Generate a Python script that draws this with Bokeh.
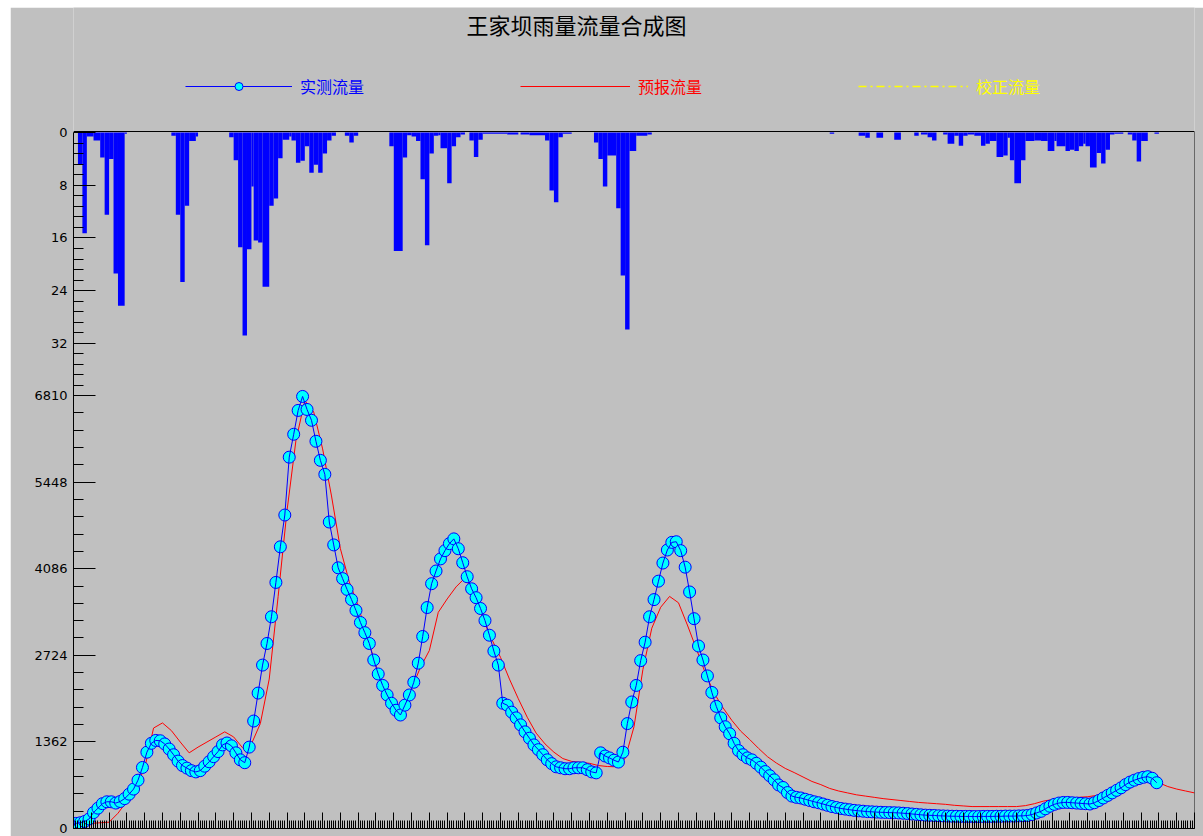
from bokeh.plotting import figure
from bokeh.models import (Range1d, LinearAxis, FixedTicker, SingleIntervalTicker,
                          Legend, LegendItem, Label, ColumnDataSource, CustomJSTickFormatter)
from bokeh.embed import file_html
from bokeh.resources import INLINE

# ---------------- data ----------------
title_text = "王家坝雨量流量合成图"
series_names = ["实测流量", "预报流量", "校正流量"]

# observed flow (every 2 h)
obs_hours = list(range(1, 488, 2))
obs_flow = [
    80, 90, 110, 150, 250, 320, 390, 420, 420, 400,
    425, 470, 540, 620, 760, 960, 1200, 1340, 1385, 1380,
    1330, 1250, 1160, 1060, 990, 950, 910, 890, 910, 980,
    1050, 1130, 1210, 1315, 1345, 1300, 1190, 1080, 1035, 1280,
    1690, 2130, 2570, 2910, 3330, 3870, 4430, 4930, 5840, 6200,
    6575, 6795, 6590, 6420, 6090, 5790, 5570, 4820, 4460, 4100,
    3930, 3760, 3600, 3430, 3240, 3080, 2910, 2650, 2430, 2250,
    2100, 1970, 1860, 1785, 1940, 2100, 2300, 2600, 3020, 3475,
    3850, 4050, 4240, 4370, 4480, 4555, 4400, 4180, 3960, 3770,
    3630, 3460, 3270, 3040, 2790, 2570, 1970, 1940, 1830, 1740,
    1630, 1520, 1420, 1315, 1240, 1160, 1080, 1020, 970, 955,
    940, 940, 955, 955, 955, 925, 890, 875, 1190, 1140,
    1110, 1075, 1045, 1200, 1650, 1990, 2250, 2640, 2930, 3330,
    3600, 3890, 4175, 4380, 4500, 4510, 4370, 4110, 3720, 3300,
    2870, 2650, 2400, 2140, 1920, 1740, 1600, 1490, 1340, 1225,
    1160, 1110, 1080, 1025, 965, 895, 830, 765, 685, 645,
    565, 510, 490, 480, 460, 440, 420, 405, 385, 365,
    345, 330, 315, 305, 295, 285, 278, 272, 265, 262,
    258, 255, 252, 250, 248, 245, 240, 235, 228, 222,
    215, 210, 207, 205, 200, 198, 195, 193, 192, 190,
    190, 190, 188, 188, 190, 190, 190, 192, 192, 195,
    195, 195, 198, 200, 205, 220, 245, 270, 310, 350,
    380, 400, 410, 410, 405, 400, 395, 390, 385, 405,
    440, 480, 520, 560, 600, 640, 690, 730, 760, 785,
    805, 815, 790, 720,
]

# forecast flow (every 4 h)
fc_hours = list(range(0, 505, 4))
fc_flow = [
    0, 40, 80, 90, 100, 240, 430, 650, 950, 1580,
    1660, 1540, 1360, 1190, 1280, 1360, 1440, 1520, 1440, 1270,
    1330, 1650, 2350, 3650, 5000, 6100, 6730, 6550, 5970, 5230,
    4400, 3880, 3500, 3020, 2560, 2200, 1960, 1840, 2200, 2535,
    2800, 3400, 3610, 3800, 3940, 3700, 3300, 2980, 2690, 2350,
    2040, 1750, 1500, 1330, 1200, 1100, 1055, 1040, 1025, 990,
    975, 970, 1100, 1600, 2500, 3150, 3480, 3650, 3550, 3200,
    2830, 2450, 2130, 1900, 1700, 1530, 1400, 1260, 1130, 1030,
    945, 880, 810, 740, 690, 630, 590, 560, 530, 510,
    490, 470, 455, 440, 425, 410, 400, 390, 380, 365,
    355, 345, 345, 345, 345, 345, 345, 360, 390, 430,
    455, 470, 480, 490, 500, 520, 570, 630, 690, 740,
    770, 760, 720, 660, 620, 590, 560,
]

# corrected flow: no values are available in this chart (legend entry only)
corr_hours = [0]
corr_flow = [float("nan")]

# hourly rainfall (mm), as intervals [start, end)
rain_start = [2, 4, 6, 9, 12, 14, 16, 18, 20, 23,
              44, 46, 48, 50, 52, 55,
              70, 72, 74, 76, 78, 80, 81, 83, 85, 88, 90, 92, 94, 97, 98, 100, 102, 104, 106, 108, 110, 112, 114, 116,
              122, 124, 126,
              142, 144, 148, 150, 152, 154, 156, 158, 160, 162, 164, 165, 168, 170, 172, 174,
              178, 180, 182, 184, 195, 201, 205, 212, 214, 216, 218, 220,
              234, 236, 238, 240, 244, 246, 248, 250, 253, 258,
              340, 353, 356, 361, 369, 378, 381, 384, 386, 391, 393, 396, 398, 400, 402, 405, 408, 410, 412, 415,
              418, 420, 421, 423, 426, 428, 432, 435, 438, 441, 442, 446, 448, 450, 452, 454, 455, 457, 460, 462,
              464, 466, 468, 474, 476, 478, 480, 486]
rain_end = [4, 6, 9, 12, 14, 16, 18, 20, 23, 24,
            46, 48, 50, 52, 55, 56,
            72, 74, 76, 78, 80, 81, 83, 85, 88, 90, 92, 94, 97, 98, 100, 102, 104, 106, 108, 110, 112, 114, 116, 118,
            124, 126, 128,
            144, 148, 150, 152, 154, 156, 158, 160, 162, 164, 165, 168, 170, 172, 174, 176,
            180, 182, 184, 195, 200, 205, 212, 214, 216, 218, 220, 224,
            236, 238, 240, 244, 246, 248, 250, 253, 258, 260,
            342, 356, 358, 364, 372, 380, 384, 386, 388, 393, 396, 398, 400, 402, 405, 408, 410, 412, 415, 418,
            420, 421, 423, 426, 428, 432, 435, 438, 441, 442, 446, 448, 450, 452, 454, 455, 457, 460, 462, 464,
            466, 468, 472, 476, 478, 480, 483, 488]
rain_mm = [4.8, 15.3, 0.6, 1.2, 3.8, 12.5, 4.0, 21.4, 26.3, 0.2,
           0.5, 12.5, 22.7, 11.1, 1.3, 0.6,
           0.7, 4.2, 17.4, 30.8, 17.7, 8.2, 16.4, 16.7, 23.4, 11.1, 10.0, 3.9, 1.1, 0.6, 1.2, 4.6, 4.3, 2.1, 6.1, 4.9, 6.1, 3.2, 1.2, 0.5,
           0.5, 1.5, 0.5,
           2.1, 18.0, 3.8, 0.4, 0.6, 1.3, 7.1, 17.1, 3.2, 0.5, 0.4, 2.4, 7.7, 2.1, 0.7, 0.3,
           1.2, 3.7, 1.1, 0.2, 0.3, 0.3, 0.4, 1.2, 8.8, 10.6, 0.7, 0.2,
           1.5, 4.0, 8.2, 3.5, 11.5, 21.7, 29.9, 2.8, 0.5, 0.3,
           0.2, 0.5, 0.8, 0.8, 1.1, 0.5, 0.3, 0.7, 1.2, 0.3, 1.7, 0.5, 2.0, 0.5, 0.3, 0.5, 2.0, 1.7, 1.3, 3.7,
           3.5, 0.8, 4.2, 7.7, 4.2, 1.3, 1.2, 1.3, 2.8, 1.3, 2.1, 2.8, 2.6, 2.8, 2.1, 1.7, 2.1, 5.3, 3.1, 4.7,
           2.6, 0.3, 0.2, 0.3, 1.2, 4.4, 1.3, 0.2]

flow_ticks = [0, 1362, 2724, 4086, 5448, 6810]
rain_ticks = [0, 8, 16, 24, 32]
flow_minor_ticks = [272.4 * i for i in range(26) if i % 5]
rain_minor_ticks = [1.6 * i for i in range(26) if i % 5]

# ---------------- scales ----------------
BG = "#C0C0C0"
FLOW_TOP = 12912          # flow value at the top of the frame (header lives inside the frame)
RAIN_BOTTOM, RAIN_TOP = 105.65, -18.98   # rain axis (inverted) on the same frame
HOUR_END = 504

def rain_pos(r):
    """position of a rain value on the flow scale (both ranges share one frame)"""
    return round((r - RAIN_BOTTOM) / (RAIN_TOP - RAIN_BOTTOM) * FLOW_TOP, 1)

frame_top_line = rain_pos(-0.15)

p = figure(width=1193, height=829, margin=(7, 0, 0, 10),
           x_range=Range1d(0, HOUR_END), y_range=Range1d(0, FLOW_TOP),
           x_axis_type=None, y_axis_type=None,
           output_backend="svg", toolbar_location=None,
           min_border_left=63, min_border_right=9, min_border_top=0, min_border_bottom=8,
           background_fill_color=BG, border_fill_color=BG,
           outline_line_color=None)
p.extra_y_ranges = {"rain": Range1d(start=RAIN_BOTTOM, end=RAIN_TOP)}

rain_src = ColumnDataSource(dict(s=rain_start, e=rain_end, mm=rain_mm, z=[0] * len(rain_mm)))
p.quad(left="s", right="e", top="z", bottom="mm", source=rain_src, y_range_name="rain",
       fill_color="#0000FF", line_color=None)

fc_line = p.line(fc_hours, fc_flow, line_color="#FF0000", line_width=1)
corr_line = p.line(corr_hours, corr_flow, line_color="#FFFF00", line_width=1.5, line_dash="8 4 2 4")
obs_pts = p.scatter(obs_hours, obs_flow, size=12, fill_color="#00FFFF", line_color="#0000FF", line_width=1)
obs_line = p.line(obs_hours, obs_flow, line_color="#0000FF", line_width=1)

blank = CustomJSTickFormatter(code="return ''")

# bottom time axis (ticks pointing inward, no labels)
xaxis = LinearAxis(ticker=SingleIntervalTicker(interval=8, num_minor_ticks=8),
                   major_tick_in=16, major_tick_out=0, minor_tick_in=8, minor_tick_out=0,
                   formatter=blank, major_label_standoff=0,
                   axis_line_color="black", major_tick_line_color="black", minor_tick_line_color="black")
p.add_layout(xaxis, "below")

# left axis: flow scale below, rain scale (inverted) above
left_major = flow_ticks + [rain_pos(r) for r in rain_ticks]
left_minor = flow_minor_ticks + [rain_pos(r) for r in rain_minor_ticks]
overrides = {t: str(t) for t in flow_ticks}
overrides.update({rain_pos(r): str(r) for r in rain_ticks})
left_axis = LinearAxis(ticker=FixedTicker(ticks=left_major, minor_ticks=left_minor),
                       major_label_overrides=overrides,
                       bounds=(0, rain_pos(0)), major_tick_in=22, major_tick_out=0,
                       minor_tick_in=10, minor_tick_out=0, major_label_standoff=6,
                       major_label_text_font="DejaVu Sans", major_label_text_font_size="13px",
                       major_label_text_color="black", axis_line_color="black",
                       major_tick_line_color="black", minor_tick_line_color="black")
p.add_layout(left_axis, "left")

# frame border lines (top and right) as bare axes
top_line = LinearAxis(ticker=FixedTicker(ticks=[]), fixed_location=frame_top_line,
                      axis_line_color="black", formatter=blank)
p.add_layout(top_line, "above")
right_line = LinearAxis(ticker=FixedTicker(ticks=[]), fixed_location=HOUR_END,
                        bounds=(0, frame_top_line), axis_line_color="black", formatter=blank)
p.add_layout(right_line, "right")

# title
p.add_layout(Label(x=503, y=805, x_units="screen", y_units="screen", text=title_text,
                   text_align="center", text_baseline="middle",
                   text_font="Noto Sans CJK SC", text_font_size="22px", text_color="black"))

# legends (one per series so that each label keeps its series colour)
legend_specs = [
    (series_names[0], [obs_line, obs_pts], "#0000FF", 112, 107),
    (series_names[1], [fc_line], "#FF0000", 447, 110),
    (series_names[2], [corr_line], "#FFFF00", 785, 110),
]
for name, rends, color, lx, gw in legend_specs:
    lg = Legend(items=[LegendItem(label=name, renderers=rends)], location=(lx, 730),
                orientation="horizontal", glyph_width=gw, glyph_height=20,
                label_standoff=8, padding=0, margin=0, spacing=0,
                border_line_alpha=0, background_fill_alpha=0,
                label_text_color=color, label_text_font="Noto Sans CJK SC",
                label_text_font_size="16px")
    p.add_layout(lg)

open("out.html", "w").write(file_html(p, INLINE))
